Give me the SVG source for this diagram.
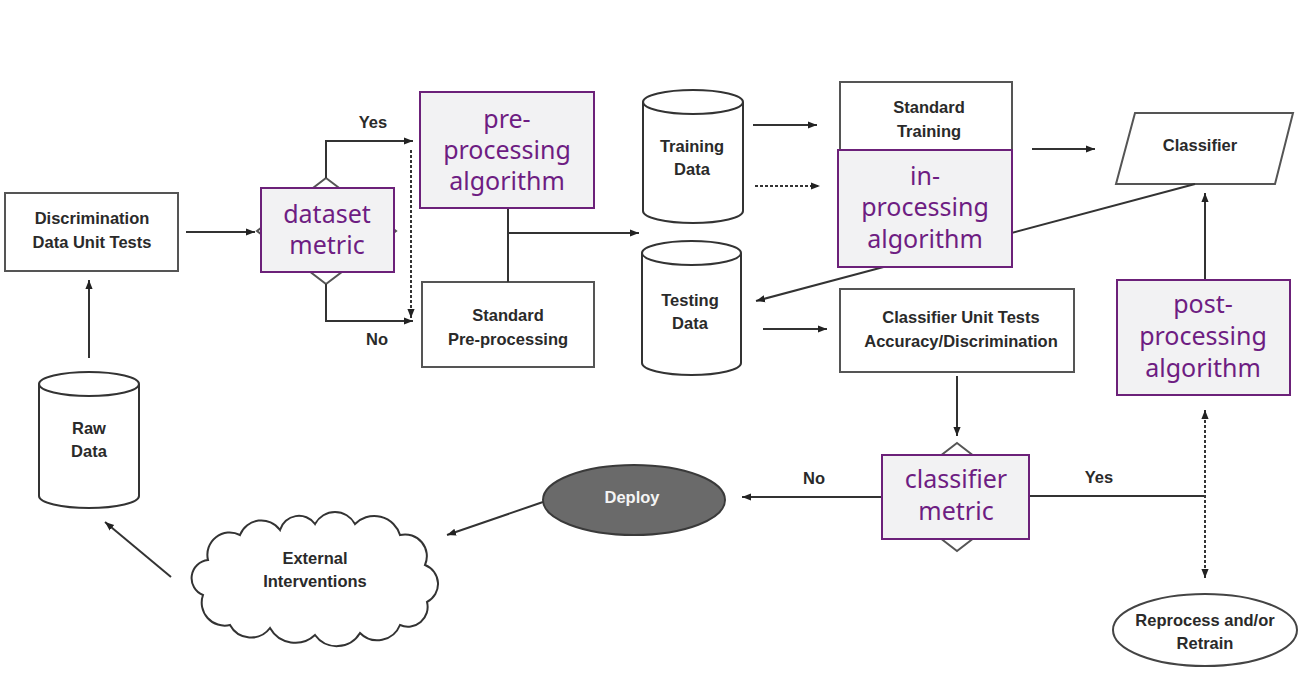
<svg xmlns="http://www.w3.org/2000/svg" width="1308" height="689" viewBox="0 0 1308 689">
<style>
.box{fill:#fff;stroke:#555;stroke-width:2}
.cyl{fill:#fff;stroke:#333;stroke-width:2}
.t{font-family:"Liberation Sans",Arial,sans-serif;font-weight:bold;font-size:16.5px;fill:#2a2a2a;text-anchor:middle}
.p{fill:#f2f2f3;stroke:#6c2179;stroke-width:2}
.pt{font-family:"Noto Sans","Open Sans",sans-serif;font-size:25px;fill:#6e1d82;text-anchor:middle}
.c{fill:none;stroke:#333;stroke-width:2}
.d{stroke-dasharray:3 2}
</style>
<defs>
<marker id="ah" viewBox="0 0 10 10" refX="10" refY="5" markerWidth="9" markerHeight="9" markerUnits="userSpaceOnUse" orient="auto-start-reverse">
<path d="M0,1 L10,5 L0,9 Z" fill="#222"/>
</marker>
</defs>
<rect width="1308" height="689" fill="#fff"/>

<g id="discrimination-tests">
<rect class="box" x="5" y="193" width="173" height="78"/>
<text class="t" x="92" y="224">Discrimination</text>
<text class="t" x="92" y="248">Data Unit Tests</text>
</g>
<g id="raw-data">
<path class="cyl" d="M39,384 V496 A50,12 0 0 0 139,496 V384"/>
<ellipse class="cyl" cx="89" cy="384" rx="50" ry="12"/>
<text class="t" x="89" y="434">Raw</text>
<text class="t" x="89" y="457">Data</text>
</g>
<g id="dataset-decision">
<polygon class="box" points="326,178 396,231 326,284 257,231"/>
</g>
<g id="standard-preprocessing">
<rect class="box" x="422" y="282" width="172" height="85"/>
<text class="t" x="508" y="321">Standard</text>
<text class="t" x="508" y="345">Pre-processing</text>
</g>
<g id="training-data">
<path class="cyl" d="M643,102 V211 A50,12 0 0 0 743,211 V102"/>
<ellipse class="cyl" cx="693" cy="102" rx="50" ry="12"/>
<text class="t" x="692" y="152">Training</text>
<text class="t" x="692" y="175">Data</text>
</g>
<g id="testing-data">
<path class="cyl" d="M642,253 V363 A49.5,12 0 0 0 741,363 V253"/>
<ellipse class="cyl" cx="691.5" cy="253" rx="49.5" ry="12"/>
<text class="t" x="690" y="306">Testing</text>
<text class="t" x="690" y="329">Data</text>
</g>
<g id="standard-training">
<rect class="box" x="840" y="82" width="172" height="110"/>
<text class="t" x="929" y="113">Standard</text>
<text class="t" x="929" y="137">Training</text>
</g>
<g id="classifier">
<polygon class="box" points="1135,113 1293,113 1275,184 1116,184"/>
<text class="t" x="1200" y="151">Classifier</text>
</g>
<g id="classifier-unit-tests">
<rect class="box" x="840" y="289" width="234" height="83"/>
<text class="t" x="961" y="323">Classifier Unit Tests</text>
<text class="t" x="961" y="347">Accuracy/Discrimination</text>
</g>
<g id="classifier-decision">
<polygon class="box" points="957,443 1027,497 957,551 887,497"/>
</g>
<g id="reprocess">
<ellipse cx="1205" cy="630" rx="92" ry="36" fill="#fff" stroke="#444" stroke-width="2"/>
<text class="t" x="1205" y="626">Reprocess and/or</text>
<text class="t" x="1205" y="649">Retrain</text>
</g>
<g id="deploy">
<ellipse cx="634" cy="500" rx="91" ry="35" fill="#6a6a6a" stroke="#3a3a3a" stroke-width="2"/>
<text class="t" x="632" y="503" style="fill:#f4f4f4">Deploy</text>
</g>
<g id="external-interventions">
<path fill="#fff" stroke="#333" stroke-width="2" d="M203,595 A18.2,18.2 0 0 1 208,560 A22.3,22.3 0 0 1 240,535 A22.9,22.9 0 0 1 280,530 A19.8,19.8 0 0 1 315,524 A22.7,22.7 0 0 1 355,524 A27,27 0 0 1 400,535 A21.8,21.8 0 0 1 425,565 A20.3,20.3 0 0 1 427,602 A19.7,19.7 0 0 1 400,625 A24.4,24.4 0 0 1 360,633 A27,27 0 0 1 315,635 A29,29 0 0 1 270,628 A23.8,23.8 0 0 1 230,625 A23,23 0 0 1 203,595 Z"/>
<text class="t" x="315" y="564">External</text>
<text class="t" x="315" y="587">Interventions</text>
</g>

<g id="connectors">
<path class="c" d="M186,232 H255" marker-end="url(#ah)"/>
<path class="c" d="M89,358 V280" marker-end="url(#ah)"/>
<path class="c" d="M326,178 V141 H413" marker-end="url(#ah)"/>
<path class="c" d="M326,284 V321 H413" marker-end="url(#ah)"/>
<path class="c d" d="M411,150 V318" marker-end="url(#ah)"/>
<path class="c" d="M508,208 V282 M508,233 H639" marker-end="url(#ah)"/>
<path class="c" d="M753,125 H817" marker-end="url(#ah)"/>
<path class="c d" d="M755,186 H820" marker-end="url(#ah)"/>
<path class="c" d="M1032,149 H1095" marker-end="url(#ah)"/>
<path class="c" d="M1195,184 L756,301" marker-end="url(#ah)"/>
<path class="c" d="M763,329 H827" marker-end="url(#ah)"/>
<path class="c" d="M1205,280 V193" marker-end="url(#ah)"/>
<path class="c" d="M957,376 V436" marker-end="url(#ah)"/>
<path class="c" d="M887,497 H742" marker-end="url(#ah)"/>
<path class="c" d="M1027,496 H1205"/>
<path class="c d" d="M1205,410 V578" marker-start="url(#ah)" marker-end="url(#ah)"/>
<path class="c" d="M543,502 L447,535" marker-end="url(#ah)"/>
<path class="c" d="M171,577 L105,522" marker-end="url(#ah)"/>
<text class="t" x="373" y="128">Yes</text>
<text class="t" x="377" y="345">No</text>
<text class="t" x="814" y="484">No</text>
<text class="t" x="1099" y="483">Yes</text>
</g>

<g id="dataset-metric">
<rect class="p" x="261" y="188" width="133" height="84"/>
<text class="pt" x="327" y="223">dataset</text>
<text class="pt" x="327" y="254">metric</text>
</g>
<g id="preprocessing-algorithm">
<rect class="p" x="420" y="92" width="174" height="116"/>
<text class="pt" x="507" y="128">pre-</text>
<text class="pt" x="507" y="159">processing</text>
<text class="pt" x="507" y="190">algorithm</text>
</g>
<g id="inprocessing-algorithm">
<rect class="p" x="838" y="150" width="174" height="117"/>
<text class="pt" x="925" y="185">in-</text>
<text class="pt" x="925" y="216">processing</text>
<text class="pt" x="925" y="248">algorithm</text>
</g>
<g id="postprocessing-algorithm">
<rect class="p" x="1117" y="280" width="173" height="115"/>
<text class="pt" x="1203" y="313">post-</text>
<text class="pt" x="1203" y="345">processing</text>
<text class="pt" x="1203" y="377">algorithm</text>
</g>
<g id="classifier-metric">
<rect class="p" x="882" y="455" width="147" height="84"/>
<text class="pt" x="956" y="488">classifier</text>
<text class="pt" x="956" y="520">metric</text>
</g>
</svg>
